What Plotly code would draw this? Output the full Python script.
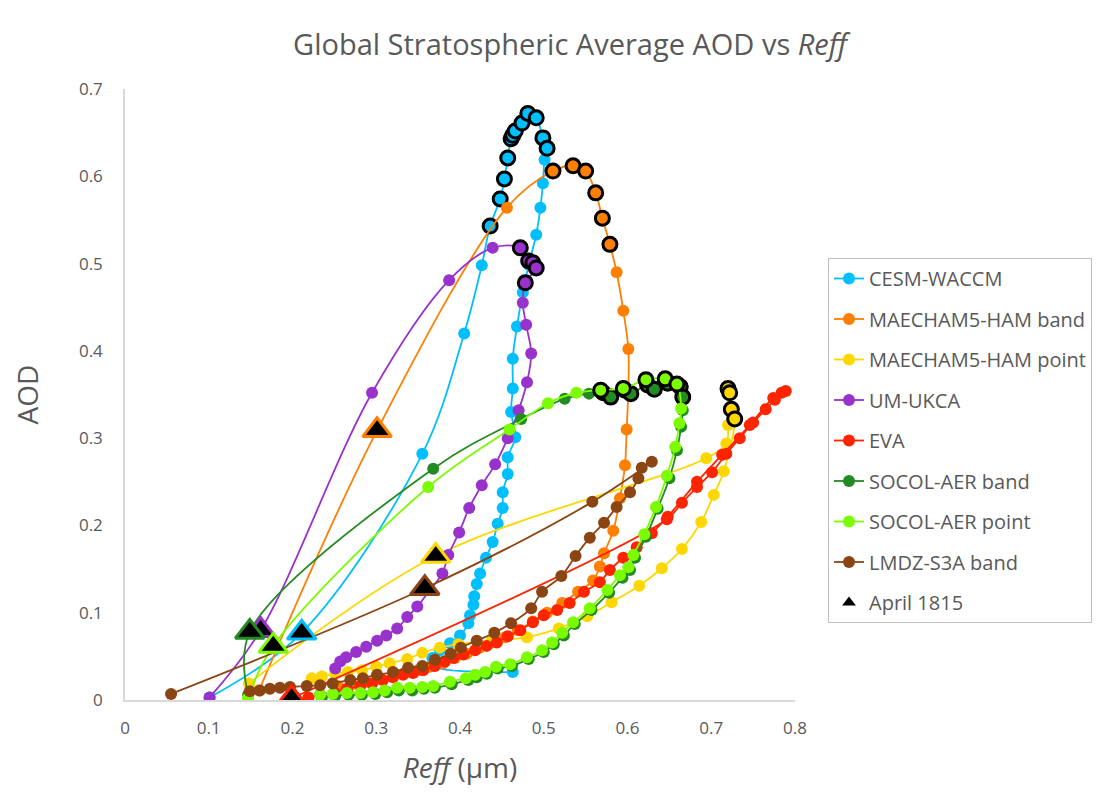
import plotly.graph_objects as go

# ---------------- data ----------------
series_names = ["CESM-WACCM", "MAECHAM5-HAM band", "MAECHAM5-HAM point", "UM-UKCA",
                "EVA", "SOCOL-AER band", "SOCOL-AER point", "LMDZ-S3A band"]

cesm_x = [0.101, 0.211, 0.355, 0.405, 0.426, 0.436, 0.448, 0.453, 0.457, 0.461, 0.463, 0.466, 0.474, 0.481,
          0.491, 0.499, 0.504, 0.501, 0.499, 0.496, 0.491, 0.482, 0.475, 0.468, 0.463, 0.463, 0.461, 0.466,
          0.457, 0.457, 0.451, 0.451, 0.445, 0.439, 0.431, 0.424, 0.420, 0.417, 0.416, 0.412, 0.410, 0.400,
          0.388, 0.376, 0.367, 0.368, 0.463]
cesm_y = [0.003, 0.077, 0.282, 0.420, 0.498, 0.543, 0.574, 0.597, 0.621, 0.643, 0.647, 0.652, 0.661, 0.672,
          0.667, 0.644, 0.632, 0.619, 0.592, 0.564, 0.533, 0.499, 0.467, 0.428, 0.391, 0.357, 0.330, 0.301,
          0.278, 0.259, 0.238, 0.220, 0.202, 0.181, 0.163, 0.145, 0.133, 0.119, 0.109, 0.097, 0.088, 0.074,
          0.065, 0.057, 0.048, 0.039, 0.032]
cesm_peak = [5, 6, 7, 8, 9, 10, 11, 12, 13, 14, 15, 16]
cesm_april = 1

mb_x = [0.160, 0.301, 0.456, 0.511, 0.535, 0.550, 0.562, 0.570, 0.579, 0.587, 0.595, 0.601, 0.601, 0.599,
        0.597, 0.591, 0.583, 0.572, 0.567, 0.559, 0.541, 0.522, 0.504, 0.487, 0.469, 0.454, 0.438, 0.424,
        0.408, 0.394, 0.380, 0.364, 0.350, 0.334, 0.320, 0.304, 0.288, 0.271, 0.254]
mb_y = [0.011, 0.309, 0.564, 0.606, 0.612, 0.606, 0.581, 0.552, 0.522, 0.490, 0.446, 0.402, 0.356, 0.310,
        0.269, 0.231, 0.194, 0.168, 0.153, 0.137, 0.124, 0.111, 0.100, 0.090, 0.080, 0.072, 0.066, 0.060,
        0.053, 0.048, 0.042, 0.038, 0.034, 0.031, 0.027, 0.024, 0.021, 0.018, 0.016]
mb_peak = [3, 4, 5, 6, 7, 8]
mb_april = 1

mp_x = [0.148, 0.371, 0.694, 0.718, 0.720, 0.720, 0.722, 0.724, 0.728, 0.715, 0.703, 0.688, 0.665, 0.641,
        0.614, 0.581, 0.552, 0.518, 0.480, 0.438, 0.398, 0.376, 0.355, 0.337, 0.316, 0.300, 0.283, 0.266,
        0.251, 0.235, 0.223]
mp_y = [0.019, 0.165, 0.277, 0.294, 0.315, 0.357, 0.352, 0.333, 0.322, 0.262, 0.235, 0.204, 0.173, 0.151,
        0.131, 0.112, 0.096, 0.082, 0.072, 0.068, 0.064, 0.060, 0.054, 0.047, 0.042, 0.038, 0.034, 0.032,
        0.030, 0.027, 0.025]
mp_peak = [5, 6, 7, 8]
mp_april = 1

um_x = [0.101, 0.162, 0.295, 0.387, 0.439, 0.472, 0.482, 0.487, 0.491, 0.478, 0.475, 0.479, 0.485, 0.480,
        0.470, 0.457, 0.442, 0.426, 0.411, 0.399, 0.386, 0.379, 0.364, 0.349, 0.337, 0.325, 0.312, 0.301,
        0.288, 0.276, 0.264, 0.257, 0.251]
um_y = [0.003, 0.080, 0.352, 0.481, 0.518, 0.518, 0.503, 0.501, 0.495, 0.478, 0.455, 0.430, 0.397, 0.364,
        0.332, 0.300, 0.270, 0.246, 0.220, 0.192, 0.166, 0.145, 0.126, 0.107, 0.095, 0.082, 0.074, 0.068,
        0.061, 0.055, 0.049, 0.044, 0.036]
um_peak = [5, 6, 7, 8, 9]
um_april = 1

eva_x = [0.199, 0.647, 0.665, 0.683, 0.701, 0.718, 0.734, 0.750, 0.765, 0.776, 0.784, 0.789, 0.774, 0.746,
         0.713, 0.683, 0.648, 0.629, 0.611, 0.595, 0.579, 0.567, 0.548, 0.531, 0.516, 0.500, 0.487, 0.472,
         0.457, 0.444, 0.432, 0.418, 0.404, 0.392, 0.382, 0.370, 0.356, 0.344, 0.332, 0.320, 0.308, 0.295,
         0.281, 0.265, 0.250, 0.233, 0.219]
eva_y = [0.002, 0.207, 0.226, 0.244, 0.261, 0.282, 0.300, 0.318, 0.333, 0.344, 0.352, 0.354, 0.346, 0.315,
         0.281, 0.250, 0.210, 0.191, 0.175, 0.163, 0.149, 0.135, 0.124, 0.111, 0.103, 0.097, 0.089, 0.080,
         0.073, 0.066, 0.062, 0.057, 0.052, 0.048, 0.044, 0.039, 0.034, 0.031, 0.029, 0.026, 0.023, 0.019,
         0.016, 0.013, 0.009, 0.006, 0.003]
eva_peak = []
eva_april = 0

sb_x = [0.147, 0.149, 0.368, 0.473, 0.525, 0.554, 0.571, 0.580, 0.597, 0.604, 0.624, 0.632, 0.648, 0.663,
        0.666, 0.666, 0.664, 0.659, 0.650, 0.636, 0.622, 0.609, 0.603, 0.594, 0.578, 0.557, 0.537, 0.524,
        0.512, 0.500, 0.482, 0.462, 0.445, 0.432, 0.420, 0.410, 0.390, 0.370, 0.357, 0.343, 0.327, 0.313,
        0.299, 0.283, 0.267, 0.251, 0.235]
sb_y = [0.006, 0.078, 0.265, 0.322, 0.345, 0.351, 0.352, 0.347, 0.355, 0.351, 0.361, 0.356, 0.363, 0.359,
        0.347, 0.332, 0.313, 0.286, 0.254, 0.219, 0.187, 0.163, 0.149, 0.140, 0.123, 0.103, 0.087, 0.074,
        0.064, 0.055, 0.047, 0.039, 0.036, 0.030, 0.026, 0.023, 0.018, 0.014, 0.013, 0.011, 0.011, 0.009,
        0.007, 0.006, 0.006, 0.005, 0.003]
sb_peak = [6, 7, 8, 9, 10, 11, 12, 13, 14]
sb_april = 1

sp_x = [0.147, 0.177, 0.362, 0.459, 0.505, 0.539, 0.568, 0.595, 0.622, 0.645, 0.659, 0.664, 0.662, 0.657,
        0.647, 0.634, 0.620, 0.607, 0.601, 0.591, 0.576, 0.555, 0.535, 0.522, 0.510, 0.498, 0.480, 0.460,
        0.443, 0.430, 0.418, 0.407, 0.388, 0.368, 0.355, 0.340, 0.325, 0.310, 0.296, 0.281, 0.265, 0.248,
        0.233]
sp_y = [0.002, 0.062, 0.244, 0.310, 0.340, 0.352, 0.355, 0.357, 0.367, 0.368, 0.362, 0.334, 0.317, 0.290,
        0.257, 0.221, 0.190, 0.166, 0.152, 0.143, 0.126, 0.105, 0.089, 0.077, 0.066, 0.057, 0.049, 0.041,
        0.038, 0.032, 0.029, 0.025, 0.021, 0.016, 0.015, 0.014, 0.014, 0.011, 0.009, 0.008, 0.008, 0.007,
        0.006]
sp_peak = [6, 7, 8, 9, 10]
sp_april = 1

lm_x = [0.055, 0.358, 0.558, 0.629, 0.617, 0.613, 0.603, 0.587, 0.572, 0.555, 0.538, 0.521, 0.498, 0.485,
        0.461, 0.441, 0.420, 0.401, 0.389, 0.370, 0.355, 0.338, 0.320, 0.301, 0.284, 0.269, 0.248, 0.233,
        0.217, 0.197, 0.185, 0.173, 0.161, 0.149]
lm_y = [0.007, 0.128, 0.227, 0.273, 0.266, 0.254, 0.238, 0.221, 0.203, 0.186, 0.165, 0.142, 0.124, 0.105,
        0.088, 0.077, 0.068, 0.060, 0.053, 0.046, 0.039, 0.037, 0.032, 0.029, 0.025, 0.023, 0.019, 0.017,
        0.016, 0.015, 0.014, 0.013, 0.011, 0.010]
lm_peak = []
lm_april = 1

colors = ["#00BFFF", "#FF7F00", "#FFD700", "#9932CC", "#FF2400", "#228B22", "#7CFC00", "#8B4513"]

all_x = [cesm_x, mb_x, mp_x, um_x, eva_x, sb_x, sp_x, lm_x]
all_y = [cesm_y, mb_y, mp_y, um_y, eva_y, sb_y, sp_y, lm_y]
all_peak = [cesm_peak, mb_peak, mp_peak, um_peak, eva_peak, sb_peak, sp_peak, lm_peak]
all_april = [cesm_april, mb_april, mp_april, um_april, eva_april, sb_april, sp_april, lm_april]

FONT = "Open Sans"
GRAY = "#595959"

# page body has an 8px margin; figure is sized/placed to compensate
W, H = 1092, 796
L, T = 117, 81
PW, PH = 670, 611

fig = go.Figure()
for i, name in enumerate(series_names):
    xs, ys, c = all_x[i], all_y[i], colors[i]
    fig.add_trace(go.Scatter(
        x=xs, y=ys, mode="lines+markers", name=name, legendgroup=name,
        line=dict(color=c, width=1.8, shape="spline", smoothing=1),
        marker=dict(color=c, size=12, line=dict(width=0)),
    ))
    pk = all_peak[i]
    if pk:
        fig.add_trace(go.Scatter(
            x=[xs[j] for j in pk], y=[ys[j] for j in pk], mode="markers",
            showlegend=False, legendgroup=name, hoverinfo="skip",
            marker=dict(color=c, size=14, line=dict(color="black", width=3)),
        ))

# April 1815 triangles
tri_x = [all_x[i][all_april[i]] for i in range(len(series_names))]
tri_y = [all_y[i][all_april[i]] for i in range(len(series_names))]
fig.add_trace(go.Scatter(
    x=tri_x, y=tri_y, mode="markers", showlegend=False,
    marker=dict(symbol="triangle-up", size=25, color="black",
                line=dict(color=colors, width=3)),
))
fig.add_trace(go.Scatter(
    x=[None], y=[None], mode="markers", name="April 1815", legendgroup="april",
    marker=dict(symbol="triangle-up", size=12, color="black"),
))

fig.update_layout(
    width=W, height=H,
    paper_bgcolor="white", plot_bgcolor="white",
    margin=dict(l=L, r=W - L - PW, t=T, b=H - T - PH, autoexpand=False),
    font=dict(family=FONT, color=GRAY, size=16),
    title=dict(text="Global Stratospheric Average AOD vs <i>Reff</i>",
               x=562 / W, xref="container", xanchor="center",
               y=1 - 37 / H, yref="container", yanchor="middle",
               font=dict(size=29, color=GRAY, family=FONT)),
    xaxis=dict(range=[0, 0.8], dtick=0.1, tick0=0, showgrid=False, zeroline=False,
               showline=True, linecolor="#d9d9d9", linewidth=1.5, ticks="",
               ticklabelstandoff=12, tickfont=dict(size=17, color=GRAY),
               title=dict(text="<i>Reff</i> (µm)", font=dict(size=28, color=GRAY), standoff=20)),
    yaxis=dict(range=[0, 0.7], dtick=0.1, tick0=0, showgrid=False, zeroline=False,
               showline=True, linecolor="#d9d9d9", linewidth=1.5, ticks="",
               ticklabelstandoff=17, tickfont=dict(size=17, color=GRAY),
               title=dict(text="AOD", font=dict(size=28, color=GRAY), standoff=36)),
    legend=dict(x=(820 - L) / PW, xanchor="left", y=(T + PH - 250) / PH,
                yanchor="top",
                bordercolor="#bfbfbf", borderwidth=1, bgcolor="white",
                font=dict(size=20, color=GRAY, family=FONT), tracegroupgap=11.5,
                itemwidth=30),
    showlegend=True,
)

fig.write_html("out.html")
